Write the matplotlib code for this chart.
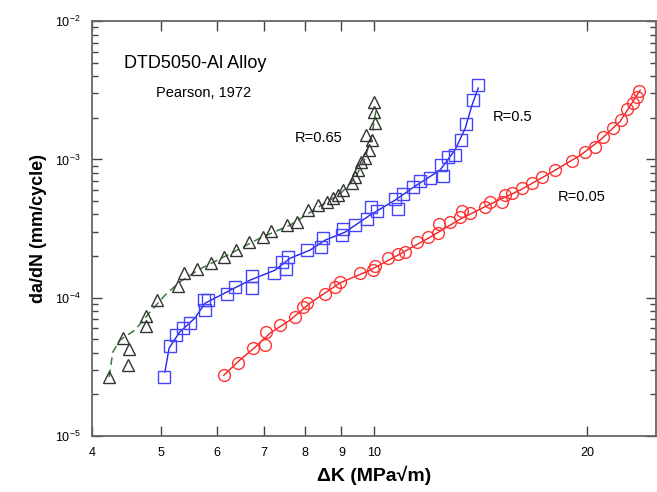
import matplotlib
matplotlib.use("Agg")
import matplotlib.pyplot as plt
from matplotlib.ticker import LogLocator, NullLocator, FixedLocator, FixedFormatter

plt.rcParams['font.family'] = ['Liberation Sans', 'DejaVu Sans']
plt.rcParams['mathtext.fontset'] = 'custom'
plt.rcParams['mathtext.rm'] = 'Liberation Sans'
plt.rcParams['mathtext.it'] = 'Liberation Sans:italic'

# R=0.65 (triangles)
dk_065 = [4.23, 4.42, 4.50, 4.51, 4.77, 4.77, 4.94, 5.29, 5.40, 5.63, 5.89, 6.14,
          6.39, 6.66, 6.98, 7.16, 7.54, 7.79, 8.08, 8.34, 8.59, 8.76, 8.90, 9.05,
          9.32, 9.41, 9.50, 9.59, 9.72, 9.85, 9.75, 9.94, 10.04, 10.01, 10.01]
da_065 = [2.67e-5, 5.10e-5, 3.26e-5, 4.25e-5, 7.36e-5, 6.23e-5, 9.61e-5, 1.21e-4,
          1.51e-4, 1.61e-4, 1.78e-4, 1.97e-4, 2.21e-4, 2.52e-4, 2.74e-4, 3.03e-4,
          3.35e-4, 3.52e-4, 4.30e-4, 4.68e-4, 4.91e-4, 5.25e-4, 5.52e-4, 6.00e-4,
          6.74e-4, 7.45e-4, 8.37e-4, 9.55e-4, 1.02e-3, 1.17e-3, 1.50e-3, 1.38e-3,
          1.83e-3, 2.20e-3, 2.60e-3]
fit_dk_065 = [4.23, 4.28, 4.38, 4.60, 4.83, 5.07, 5.32, 5.68, 6.26, 6.91, 7.62,
              8.40, 8.96, 9.41, 9.72, 9.94, 10.07]
fit_da_065 = [2.67e-5, 4.04e-5, 4.93e-5, 5.83e-5, 7.87e-5, 1.04e-4, 1.30e-4, 1.61e-4,
              2.07e-4, 2.70e-4, 3.35e-4, 4.60e-4, 5.61e-4, 7.33e-4, 1.02e-3, 1.50e-3,
              2.27e-3]

# R=0.5 (squares)
dk_05 = [5.06, 5.16, 5.26, 5.38, 5.50, 5.76, 5.78, 5.83, 6.20, 6.37, 6.73, 6.73,
         7.23, 7.42, 7.52, 7.57, 8.05, 8.42, 8.48, 9.02, 9.05, 9.41, 9.79, 9.91,
         10.11, 10.72, 10.82, 11.00, 11.36, 11.62, 12.01, 12.53, 12.44, 12.73,
         13.02, 13.28, 13.50, 13.81, 14.04]
da_05 = [2.67e-5, 4.47e-5, 5.37e-5, 6.03e-5, 6.55e-5, 9.61e-5, 8.13e-5, 9.61e-5,
         1.06e-4, 1.19e-4, 1.43e-4, 1.17e-4, 1.51e-4, 1.81e-4, 1.61e-4, 1.97e-4,
         2.21e-4, 2.32e-4, 2.70e-4, 2.84e-4, 3.13e-4, 3.35e-4, 3.70e-4, 4.52e-4,
         4.23e-4, 5.16e-4, 4.37e-4, 5.61e-4, 6.31e-4, 6.97e-4, 7.33e-4, 7.57e-4,
         9.10e-4, 1.04e-3, 1.07e-3, 1.38e-3, 1.80e-3, 2.69e-3, 3.45e-3]
fit_dk_05 = [5.07, 5.14, 5.32, 5.59, 5.78, 6.16, 6.69, 7.25, 7.62, 8.13, 8.54,
             9.11, 9.88, 10.72, 11.44, 12.40, 13.02, 13.46, 13.76, 14.04]
fit_da_05 = [2.90e-5, 4.32e-5, 5.64e-5, 7.12e-5, 9.14e-5, 1.08e-4, 1.34e-4, 1.58e-4,
             1.93e-4, 2.21e-4, 2.61e-4, 2.98e-4, 3.96e-4, 5.08e-4, 6.41e-4, 8.37e-4,
             1.17e-3, 1.68e-3, 2.47e-3, 3.28e-3]

# R=0.05 (circles)
dk_005 = [6.14, 6.43, 6.75, 7.02, 7.04, 7.37, 7.74, 7.95, 8.05, 8.54, 8.82, 8.96,
          9.56, 9.98, 10.04, 10.48, 10.82, 11.07, 11.51, 11.93, 12.33, 12.37, 12.82,
          13.24, 13.33, 13.68, 14.36, 14.60, 15.18, 15.33, 15.68, 16.20, 16.73,
          17.29, 18.03, 19.06, 19.88, 20.54, 21.08, 21.78, 22.35, 22.79, 23.24,
          23.54, 23.70]
da_005 = [2.75e-5, 3.37e-5, 4.32e-5, 4.54e-5, 5.64e-5, 6.34e-5, 7.24e-5, 8.55e-5,
          9.14e-5, 1.06e-4, 1.19e-4, 1.30e-4, 1.51e-4, 1.58e-4, 1.69e-4, 1.93e-4,
          2.07e-4, 2.14e-4, 2.52e-4, 2.74e-4, 2.93e-4, 3.40e-4, 3.52e-4, 3.83e-4,
          4.23e-4, 4.09e-4, 4.52e-4, 4.91e-4, 4.91e-4, 5.52e-4, 5.70e-4, 6.20e-4,
          6.74e-4, 7.45e-4, 8.37e-4, 9.72e-4, 1.13e-3, 1.23e-3, 1.45e-3, 1.68e-3,
          1.92e-3, 2.31e-3, 2.55e-3, 2.82e-3, 3.12e-3]
fit_dk_005 = [6.14, 6.47, 6.80, 7.14, 7.62, 8.13, 8.96, 9.88, 10.89, 12.01, 13.24,
              14.60, 16.09, 17.74, 19.56, 20.88, 22.28, 23.77]
fit_da_005 = [2.75e-5, 3.54e-5, 4.39e-5, 5.55e-5, 6.89e-5, 9.14e-5, 1.28e-4, 1.58e-4,
              2.07e-4, 2.74e-4, 3.70e-4, 4.75e-4, 6.00e-4, 7.96e-4, 1.07e-3, 1.38e-3,
              1.89e-3, 3.17e-3]

x_ticks = [4, 5, 6, 7, 8, 9, 10, 20]
x_labels = ['4', '5', '6', '7', '8', '9', '10', '20']
y_ticks = [1e-5, 1e-4, 1e-3, 1e-2]
y_labels = ['$10^{-5}$', '$10^{-4}$', '$10^{-3}$', '$10^{-2}$']

fig = plt.figure(figsize=(6.57, 4.92), dpi=100)
ax = fig.add_axes([0.140, 0.114, 0.858, 0.843])

# fitted curves
ax.plot(fit_dk_065, fit_da_065, '--', color='#3a7d3a', lw=1.1, dashes=(5, 3))
ax.plot(fit_dk_05, fit_da_05, '-', color='#2222ee', lw=1.0)
ax.plot(fit_dk_005, fit_da_005, '-', color='#ee2222', lw=1.0)

# data points
ax.plot(dk_065, da_065, '^', ms=8.5, mfc='none', mec='#333333', mew=1.0)
ax.plot(dk_05, da_05, 's', ms=8.5, mfc='none', mec='#4444ff', mew=1.0)
ax.plot(dk_005, da_005, 'o', ms=8.5, mfc='none', mec='#ff3333', mew=1.0)

ax.set_xscale('log')
ax.set_yscale('log')
ax.set_xlim(4, 25)
ax.set_ylim(1e-5, 1e-2)

ax.xaxis.set_major_locator(FixedLocator(x_ticks))
ax.xaxis.set_major_formatter(FixedFormatter(x_labels))
ax.xaxis.set_minor_locator(NullLocator())
ax.yaxis.set_major_locator(FixedLocator(y_ticks))
ax.yaxis.set_major_formatter(FixedFormatter(y_labels))
ax.yaxis.set_minor_locator(LogLocator(base=10, subs=range(2, 10)))

ax.tick_params(which='both', direction='in', top=True, right=True,
               color='#444444', labelsize=9, pad=8)
ax.tick_params(which='major', length=7, width=1)
ax.tick_params(which='minor', length=4, width=1)
for sp in ax.spines.values():
    sp.set_color('#666666')
    sp.set_linewidth(1.3)

ax.set_xlabel('ΔK (MPa√m)', fontsize=14, fontweight='bold', labelpad=5)
ax.set_ylabel('da/dN (mm/cycle)', fontsize=13, fontweight='bold', labelpad=6)

ax.text(4.44, 4.97e-3, 'DTD5050-Al Alloy', fontsize=13, va='center', ha='left')
ax.text(4.92, 3.02e-3, 'Pearson, 1972', fontsize=10.5, va='center', ha='left')
ax.text(7.74, 1.43e-3, 'R=0.65', fontsize=10.5, va='center', ha='left')
ax.text(14.74, 2.02e-3, 'R=0.5', fontsize=10.5, va='center', ha='left')
ax.text(18.2, 5.34e-4, 'R=0.05', fontsize=10.5, va='center', ha='left')

fig.savefig('out.png', dpi=100)
